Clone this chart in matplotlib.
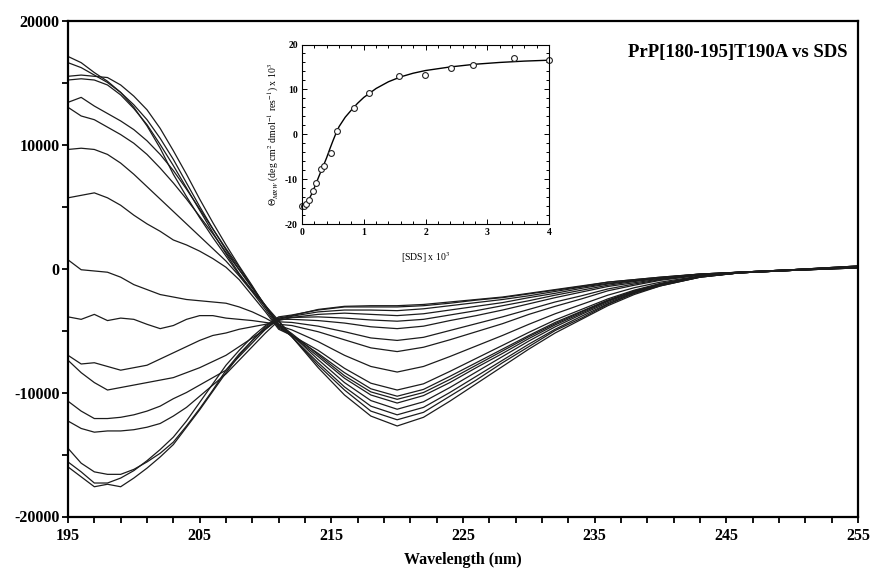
import numpy as np
import matplotlib
matplotlib.use("Agg")
import matplotlib.pyplot as plt
from matplotlib.ticker import MultipleLocator, FixedLocator

plt.rcParams['font.family'] = ['Liberation Serif', 'DejaVu Serif']
plt.rcParams['axes.unicode_minus'] = False
plt.rcParams['mathtext.fontset'] = 'stix'

# ---------------- data (mean residue ellipticity, x1000) ----------------
wavelength = [195, 196, 197, 198, 199, 200, 201, 202, 203, 204, 205, 206, 207, 208, 209, 210, 211,
              212, 214, 216, 218, 220, 222, 224, 226, 228, 230, 232, 234, 236, 238, 240, 243, 246, 250, 255]

s01 = [17.1, 16.6, 15.8, 15.1, 14.2, 13.0, 11.5, 9.7, 7.6, 5.8, 4.1, 2.5, 1.0, -0.5, -1.8, -3.0, -4.2,
       -5.5, -8.0, -10.2, -11.9, -12.7, -12.0, -10.7, -9.3, -7.9, -6.5, -5.2, -4.1, -3.0, -2.1, -1.4, -0.7, -0.35, -0.15, 0.05]
s02 = [16.6, 16.2, 15.6, 15.0, 14.2, 13.2, 12.0, 10.5, 8.8, 6.9, 5.0, 3.2, 1.5, -0.1, -1.6, -3.0, -4.5,
       -5.5, -7.8, -9.8, -11.5, -12.2, -11.6, -10.3, -9.0, -7.6, -6.3, -5.0, -4.0, -2.9, -2.0, -1.4, -0.7, -0.35, -0.15, 0.05]
s03 = [15.5, 15.6, 15.5, 15.4, 14.8, 13.9, 12.8, 11.3, 9.5, 7.6, 5.6, 3.7, 1.9, 0.2, -1.4, -3.1, -4.6,
       -5.5, -7.6, -9.55, -11.1, -11.8, -11.2, -10.0, -8.7, -7.4, -6.1, -4.9, -3.85, -2.85, -2.0, -1.35, -0.7, -0.35, -0.15, 0.05]
s04 = [15.2, 15.3, 15.2, 14.8, 14.0, 12.9, 11.6, 10.0, 8.3, 6.5, 4.7, 2.9, 1.2, -0.4, -1.8, -3.1, -4.3,
       -5.35, -7.35, -9.2, -10.65, -11.35, -10.75, -9.6, -8.35, -7.1, -5.85, -4.7, -3.7, -2.75, -1.95, -1.3, -0.65, -0.35, -0.15, 0.05]
s05 = [13.4, 13.8, 13.1, 12.5, 11.9, 11.2, 10.3, 9.2, 7.9, 6.4, 4.8, 3.2, 1.6, 0.1, -1.5, -3.1, -4.7,
       -5.4, -7.1, -8.85, -10.2, -10.85, -10.25, -9.2, -8.0, -6.85, -5.65, -4.55, -3.6, -2.65, -1.9, -1.25, -0.65, -0.35, -0.15, 0.1]
s06 = [13.0, 12.3, 12.0, 11.4, 10.8, 10.1, 9.2, 8.1, 6.9, 5.6, 4.2, 2.8, 1.3, -0.1, -1.5, -3.0, -4.5,
       -5.25, -6.95, -8.65, -9.95, -10.55, -10.0, -8.95, -7.8, -6.65, -5.5, -4.45, -3.5, -2.6, -1.85, -1.25, -0.65, -0.35, -0.15, 0.1]
s07 = [9.6, 9.7, 9.6, 9.2, 8.5, 7.6, 6.6, 5.6, 4.6, 3.6, 2.6, 1.6, 0.6, -0.6, -1.9, -3.3, -4.8,
       -5.4, -6.85, -8.4, -9.7, -10.3, -9.75, -8.7, -7.6, -6.5, -5.4, -4.35, -3.45, -2.55, -1.8, -1.25, -0.65, -0.35, -0.15, 0.1]
s08 = [5.7, 5.9, 6.1, 5.7, 5.1, 4.3, 3.6, 3.0, 2.3, 1.9, 1.4, 0.8, 0.1, -0.9, -2.2, -3.5, -4.9,
       -5.4, -6.6, -8.05, -9.25, -9.8, -9.3, -8.3, -7.25, -6.2, -5.15, -4.15, -3.3, -2.45, -1.75, -1.2, -0.65, -0.35, -0.15, 0.1]
s09 = [0.7, -0.1, -0.2, -0.3, -0.7, -1.3, -1.7, -2.1, -2.3, -2.5, -2.6, -2.7, -2.8, -3.1, -3.5, -4.0, -4.6,
       -4.95, -5.9, -7.0, -7.9, -8.35, -7.9, -7.1, -6.25, -5.4, -4.5, -3.65, -2.9, -2.15, -1.55, -1.1, -0.6, -0.35, -0.15, 0.1]
s10 = [-3.9, -4.1, -3.7, -4.2, -4.0, -4.1, -4.5, -4.85, -4.6, -4.1, -3.8, -3.8, -4.0, -4.1, -4.2, -4.35, -4.5,
       -4.6, -5.1, -5.75, -6.4, -6.7, -6.35, -5.75, -5.1, -4.45, -3.7, -3.05, -2.45, -1.8, -1.35, -0.95, -0.55, -0.3, -0.1, 0.15]
s11 = [-7.0, -7.7, -7.6, -7.9, -8.2, -8.0, -7.8, -7.3, -6.8, -6.3, -5.8, -5.4, -5.2, -4.9, -4.7, -4.5, -4.3,
       -4.35, -4.65, -5.1, -5.6, -5.8, -5.55, -5.0, -4.45, -3.9, -3.3, -2.7, -2.2, -1.65, -1.25, -0.9, -0.5, -0.3, -0.1, 0.15]
s12 = [-7.4, -8.4, -9.2, -9.8, -9.6, -9.4, -9.2, -9.0, -8.8, -8.4, -8.0, -7.5, -7.0, -6.3, -5.6, -4.9, -4.1,
       -4.1, -4.2, -4.4, -4.7, -4.85, -4.65, -4.2, -3.8, -3.35, -2.85, -2.35, -1.9, -1.45, -1.15, -0.85, -0.5, -0.3, -0.1, 0.15]
s13 = [-10.7, -11.5, -12.1, -12.1, -12.0, -11.8, -11.5, -11.1, -10.5, -10.0, -9.4, -8.8, -8.2, -7.1, -6.0, -4.9, -4.0,
       -3.95, -3.9, -4.0, -4.15, -4.25, -4.1, -3.75, -3.4, -3.0, -2.6, -2.15, -1.75, -1.35, -1.05, -0.8, -0.5, -0.3, -0.1, 0.2]
s14 = [-12.3, -12.9, -13.2, -13.1, -13.1, -13.0, -12.8, -12.5, -11.9, -11.2, -10.3, -9.4, -8.5, -7.4, -6.3, -5.2, -4.2,
       -3.95, -3.7, -3.6, -3.7, -3.8, -3.65, -3.35, -3.05, -2.75, -2.35, -2.0, -1.6, -1.25, -1.0, -0.75, -0.45, -0.3, -0.1, 0.2]
s15 = [-14.5, -15.7, -16.4, -16.6, -16.6, -16.2, -15.6, -14.9, -14.0, -12.7, -11.3, -9.8, -8.2, -6.9, -5.8, -4.8, -4.1,
       -3.85, -3.5, -3.35, -3.35, -3.4, -3.25, -3.0, -2.75, -2.5, -2.2, -1.85, -1.5, -1.2, -0.95, -0.75, -0.45, -0.3, -0.1, 0.2]
s16 = [-15.6, -16.4, -17.3, -17.3, -16.9, -16.3, -15.5, -14.6, -13.6, -12.3, -10.8, -9.3, -7.8, -6.6, -5.5, -4.6, -3.9,
       -3.75, -3.35, -3.1, -3.1, -3.1, -3.0, -2.8, -2.55, -2.35, -2.05, -1.75, -1.45, -1.1, -0.9, -0.7, -0.45, -0.3, -0.1, 0.15]
s17 = [-16.0, -16.8, -17.6, -17.4, -17.6, -16.9, -16.1, -15.2, -14.2, -12.8, -11.4, -9.9, -8.4, -7.0, -5.8, -4.7, -4.0,
       -3.8, -3.3, -3.05, -3.0, -3.0, -2.9, -2.7, -2.5, -2.3, -2.0, -1.7, -1.4, -1.1, -0.9, -0.7, -0.45, -0.3, -0.1, 0.2]

spectra_k = [s01, s02, s03, s04, s05, s06, s07, s08, s09, s10, s11, s12, s13, s14, s15, s16, s17]

x_major_ticks = [195, 205, 215, 225, 235, 245, 255]

# inset: titration
sds = [0.0, 0.04, 0.07, 0.12, 0.18, 0.23, 0.30, 0.35, 0.47, 0.57, 0.84, 1.09, 1.57, 1.99, 2.41, 2.77, 3.43, 4.0]
theta222 = [-16.1, -15.9, -15.6, -14.6, -12.6, -10.8, -7.85, -7.0, -4.1, 0.8, 5.8, 9.3, 12.9, 13.3, 14.8, 15.4, 16.9, 16.5]
fit_x = [0.0, 0.05, 0.1, 0.15, 0.2, 0.25, 0.3, 0.35, 0.4, 0.45, 0.5, 0.55, 0.6, 0.7, 0.8, 0.9, 1.0,
         1.2, 1.4, 1.6, 1.8, 2.0, 2.4, 2.8, 3.2, 3.6, 4.0]
fit_y = [-16.2, -15.7, -14.8, -13.5, -11.9, -10.2, -8.5, -6.9, -5.2, -3.3, -1.5, 0.2, 1.7, 3.8, 5.4, 6.9, 8.2,
         10.2, 11.7, 12.8, 13.6, 14.2, 15.0, 15.6, 16.0, 16.3, 16.5]

title_text = "PrP[180-195]T190A vs SDS"

# ---------------- figure ----------------
W, H = 873, 573
fig = plt.figure(figsize=(W / 100, H / 100), dpi=100)
fig.patch.set_facecolor('white')

L, R, T, B = 68, 858, 20.5, 516.5
ax = fig.add_axes([L / W, 1 - B / H, (R - L) / W, (B - T) / H])

for s in spectra_k:
    ax.plot(wavelength, np.array(s) * 1000, color='#1c1c1c', lw=0.9, solid_joinstyle='round')

ax.set_xlim(195, 255)
ax.set_ylim(-20000, 20000)
ax.xaxis.set_major_locator(FixedLocator(x_major_ticks))
ax.xaxis.set_minor_locator(MultipleLocator(2, offset=1))
ax.yaxis.set_major_locator(MultipleLocator(10000))
ax.yaxis.set_minor_locator(MultipleLocator(5000))
for sp in ax.spines.values():
    sp.set_linewidth(1.6)
ax.tick_params(which='both', direction='out', length=4, width=1.3)
ax.tick_params(axis='x', labelsize=11.5, pad=4)
ax.tick_params(axis='y', labelsize=11.5, pad=2)
for lab in ax.get_xticklabels() + ax.get_yticklabels():
    lab.set_fontweight('bold')
ax.set_xlabel('Wavelength (nm)', fontsize=11.5, fontweight='bold', labelpad=6)

fig.text(848 / W, 1 - 53 / H, title_text, ha='right', va='center',
         fontsize=13.5, fontweight='bold')

# ---------------- inset ----------------
iL, iR, iT, iB = 302, 549, 44.5, 224
axi = fig.add_axes([iL / W, 1 - iB / H, (iR - iL) / W, (iB - iT) / H])
axi.plot(fit_x, fit_y, color='black', lw=1.0)
axi.plot(sds, theta222, linestyle='none', marker='o', markersize=4.2, clip_on=False,
         markerfacecolor='white', markeredgecolor='#222222', markeredgewidth=0.8)
axi.set_xlim(0, 4)
axi.set_ylim(-20, 20)
axi.xaxis.set_major_locator(MultipleLocator(1))
axi.xaxis.set_minor_locator(MultipleLocator(0.2))
axi.yaxis.set_major_locator(MultipleLocator(10))
axi.yaxis.set_minor_locator(MultipleLocator(2))
for sp in axi.spines.values():
    sp.set_linewidth(0.8)
axi.tick_params(which='both', direction='in', top=True, right=True, width=0.7)
axi.tick_params(which='major', length=3.5)
axi.tick_params(which='minor', length=2)
axi.tick_params(labelsize=7, pad=3)
for lab in axi.get_xticklabels() + axi.get_yticklabels():
    lab.set_fontweight('bold')
axi.set_xlabel(r'[SDS] x 10$^{3}$', fontsize=7, labelpad=9)
axi.set_ylabel(r'$\Theta_{MRW}$ (deg cm$^{2}$ dmol$^{-1}$ res$^{-1}$) x 10$^{3}$', fontsize=7, labelpad=3)

fig.save = None
fig.savefig('out.png', dpi=100)
